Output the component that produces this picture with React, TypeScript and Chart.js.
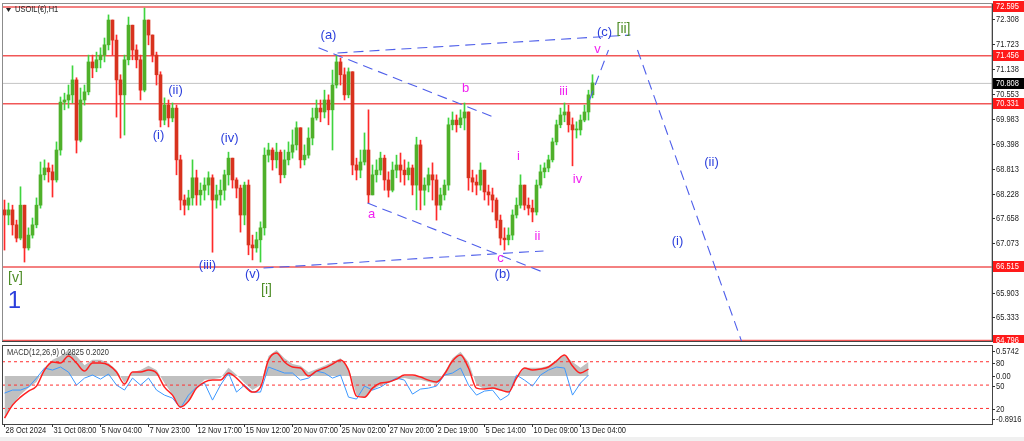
import React, { useEffect, useRef } from "react";
import { Chart, registerables } from "chart.js";

Chart.register(...registerables);

// ---------- data ----------
const SYMBOL_TITLE = "USOIL(€),H1";
const MACD_TITLE = "MACD(12,26,9) 0.2825 0.2020";

const X_MIN = -0.625;
const X_MAX = 246.875;
const PRICE_MIN = 64.76;
const PRICE_MAX = 72.665;
const MACD_MIN = -0.8916;
const MACD_MAX = 0.5742;
const STOCH_MIN = 0;
const STOCH_MAX = 101.5;

const OPEN0 = 67.85;
const HIGH = [
  68.08, 68.01, 67.96, 67.61, 68.39, 67.96, 67.43, 67.66, 68.13, 68.97,
  69.02, 68.95, 68.9, 69.44, 70.49, 70.58, 70.77, 71.22, 70.94, 70.7,
  70.77, 71.47, 71.47, 71.54, 71.64, 71.87, 72.41, 72.17, 71.94, 71.01,
  71.47, 72.36, 72.06, 71.71, 71.47, 72.57, 72.29, 71.82, 71.54, 71.08,
  70.47, 70.42, 70.35, 70.3, 69.13, 68.2, 68.31, 69.02, 68.78, 68.48,
  68.6, 68.74, 68.67, 68.43, 68.55, 68.78, 69.2, 69.06, 68.6, 68.43,
  68.5, 68.55, 67.26, 67.33, 67.57, 69.3, 69.41, 69.3, 69.41, 69.25,
  69.25, 69.44, 69.72, 69.91, 69.77, 69.37, 69.77, 70.23, 70.42, 70.42,
  70.65, 70.54, 71.12, 71.47, 71.4, 71.17, 71.17, 71.01, 69.06, 69.25,
  69.65, 70.19, 68.9, 69.02, 69.2, 69.13, 68.74, 68.97, 69.13, 69.18,
  69.02, 68.97, 68.9, 69.55, 69.48, 68.6, 68.83, 68.95, 68.67, 68.36,
  68.55, 70.0, 70.14, 70.07, 70.19, 70.35, 70.07, 68.78, 68.67, 68.95,
  68.78, 68.43, 68.36, 68.13, 67.73, 67.43, 67.43, 67.85, 68.13, 68.67,
  68.43, 68.13, 68.08, 68.55, 68.9, 68.95, 69.13, 69.53, 69.95, 70.23,
  70.35, 70.3, 70.0, 69.91, 70.07, 70.3, 70.65, 71.01,
];
const LOW = [
  66.91, 67.5, 67.26, 67.1, 67.15, 66.63, 66.91, 67.19, 67.43, 67.89,
  68.55, 68.5, 68.15, 68.5, 69.13, 70.19, 70.23, 70.35, 69.18, 69.44,
  70.3, 70.54, 70.94, 71.08, 71.17, 71.31, 71.59, 71.47, 70.02, 69.53,
  69.6, 71.24, 71.36, 71.17, 70.42, 70.61, 71.71, 71.31, 70.77, 69.79,
  69.84, 69.79, 69.91, 68.67, 67.85, 67.73, 67.85, 67.96, 67.96, 67.96,
  68.08, 68.2, 66.86, 67.89, 67.96, 68.08, 68.43, 68.36, 68.13, 67.33,
  67.5, 66.8, 66.68, 66.86, 66.63, 67.26, 68.97, 68.78, 68.83, 68.48,
  68.6, 68.9, 69.06, 69.25, 68.83, 68.9, 69.06, 69.37, 69.95, 69.91,
  70.0, 69.84, 69.25, 70.7, 70.77, 70.42, 70.47, 68.67, 68.55, 68.6,
  68.9, 68.01, 68.2, 68.5, 68.67, 68.31, 68.15, 68.27, 68.6, 68.5,
  68.43, 68.55, 68.2, 67.85, 67.85, 67.96, 68.27, 68.08, 67.61, 67.85,
  68.08, 68.31, 69.72, 69.67, 69.77, 69.72, 68.31, 68.27, 68.2, 68.31,
  68.08, 67.96, 67.8, 67.43, 67.03, 66.91, 67.03, 67.15, 67.66, 67.89,
  67.85, 67.73, 67.57, 67.73, 68.36, 68.6, 68.74, 68.97, 69.37, 69.77,
  69.91, 69.67, 68.88, 69.53, 69.6, 69.91, 69.95, 70.47,
];
const CLOSE = [
  67.73, 67.85, 67.5, 67.19, 67.96, 66.96, 67.26, 67.5, 67.96, 68.67,
  68.83, 68.74, 68.55, 69.25, 70.37, 70.42, 70.54, 70.89, 69.48, 70.42,
  70.61, 71.31, 71.17, 71.36, 71.47, 71.71, 72.29, 71.82, 70.89, 70.54,
  71.36, 72.17, 71.59, 71.36, 70.65, 72.29, 71.94, 71.47, 71.01, 69.95,
  70.3, 70.0, 70.23, 69.02, 68.08, 67.96, 68.13, 68.6, 68.2, 68.31,
  68.43, 68.6, 68.08, 68.2, 68.31, 68.67, 69.06, 68.55, 68.36, 67.73,
  68.43, 67.03, 66.96, 67.15, 67.43, 69.13, 69.25, 69.02, 69.2, 68.67,
  69.02, 69.2, 69.37, 69.77, 69.02, 69.13, 69.53, 70.0, 70.23, 70.14,
  70.42, 70.19, 70.77, 71.31, 71.01, 70.54, 71.08, 68.9, 68.78, 68.97,
  69.25, 68.2, 68.67, 68.78, 69.06, 68.55, 68.31, 68.78, 68.9, 68.78,
  68.67, 68.83, 68.43, 69.37, 68.31, 68.43, 68.67, 68.55, 67.96, 68.2,
  68.43, 69.84, 69.95, 69.84, 70.0, 70.14, 68.6, 68.5, 68.43, 68.78,
  68.27, 68.2, 68.08, 67.61, 67.19, 67.15, 67.26, 67.73, 67.96, 68.43,
  67.96, 67.89, 67.8, 68.43, 68.74, 68.83, 69.02, 69.44, 69.84, 70.07,
  70.14, 69.84, 69.72, 69.72, 69.95, 70.14, 70.54, 70.82,
];

const LEVELS = [72.595, 71.456, 70.331, 66.515, 64.796];
const CURRENT_PRICE = 70.808;
const PRICE_TICKS = [72.308, 71.723, 71.138, 70.553, 69.983, 69.398, 68.813, 68.228, 67.658, 67.073, 65.903, 65.333];

const TIME_TICKS = [0, 12, 24, 36, 48, 60, 72, 84, 96, 108, 120, 132, 144];
const TIME_LABELS = [
  "28 Oct 2024", "31 Oct 08:00", "5 Nov 04:00", "7 Nov 23:00", "12 Nov 17:00",
  "15 Nov 12:00", "20 Nov 07:00", "25 Nov 02:00", "27 Nov 20:00", "2 Dec 19:00",
  "5 Dec 14:00", "10 Dec 09:00", "13 Dec 04:00",
];

// oscillator samples every 2 bars (bar index = 2k)
const MACD_HIST = [
  -0.76, -0.54, -0.35, -0.22, -0.11, 0.15, 0.3, 0.37, 0.48, 0.37,
  0.2, 0.3, 0.3, 0.24, 0.11, -0.13, 0.07, 0.11, 0.19, 0.11,
  -0.13, -0.35, -0.59, -0.48, -0.22, -0.07, -0.06, -0.04, 0.15, 0.02,
  -0.13, -0.26, -0.17, 0.37, 0.48, 0.33, 0.22, 0.19, 0.07, 0.13,
  0.19, 0.26, 0.33, 0.15, -0.35, -0.41, -0.26, -0.17, -0.13, -0.07,
  -0.04, -0.07, -0.07, -0.11, -0.15, 0.07, 0.33, 0.45, 0.26, -0.17,
  -0.24, -0.24, -0.26, -0.3, -0.04, 0.15, 0.15, 0.15, 0.19, 0.3,
  0.39, 0.26, 0.15, 0.26,
];
const OSC_SIGNAL = [
  7.5, 24.2, 34.5, 42.3, 48.7, 69.3, 79.6, 78.3, 87.3, 78.3,
  68.0, 78.3, 78.3, 75.8, 66.7, 51.3, 66.7, 66.7, 69.3, 65.5,
  47.4, 37.1, 21.7, 29.4, 46.1, 53.9, 56.4, 56.4, 65.5, 59.0,
  48.7, 41.0, 47.4, 82.2, 91.2, 79.6, 73.2, 71.9, 61.6, 68.0,
  71.9, 77.0, 82.2, 69.3, 35.8, 34.5, 46.1, 52.6, 53.9, 57.7,
  62.9, 62.9, 60.3, 56.4, 53.9, 64.2, 80.9, 88.6, 71.9, 46.1,
  44.9, 46.1, 43.6, 41.0, 59.0, 71.9, 69.3, 70.6, 73.2, 80.9,
  88.6, 74.5, 65.5, 70.6,
];
const OSC_MAIN = [
  39.7, 43.6, 43.6, 47.4, 59.0, 71.9, 69.3, 73.2, 66.7, 50.0,
  59.0, 62.9, 57.7, 64.2, 50.0, 43.6, 59.0, 50.0, 59.0, 43.6,
  37.1, 33.3, 20.4, 37.1, 47.4, 52.6, 30.7, 50.0, 65.5, 41.0,
  50.0, 41.0, 41.0, 73.2, 69.3, 65.5, 65.5, 56.4, 59.0, 68.0,
  65.5, 59.0, 62.9, 34.5, 32.0, 48.7, 43.6, 47.4, 53.9, 59.0,
  56.4, 38.4, 44.9, 46.1, 48.7, 62.9, 65.5, 71.9, 50.0, 37.1,
  42.3, 43.6, 30.7, 37.1, 62.9, 56.4, 48.7, 62.9, 69.3, 73.2,
  71.9, 37.1, 52.6, 62.9,
];
const OSC_LEVELS = [80, 50, 20];

// Elliott wave labels: [text, bar index, price, kind]
const WAVE_LABELS: [string, number, number, string][] = [
  ["[v]", 2.75, 66.26, "green"],
  ["1", 2.5, 65.72, "big"],
  ["(i)", 38.5, 69.58, "blue"],
  ["(ii)", 42.75, 70.65, "blue"],
  ["(iii)", 50.75, 66.56, "blue"],
  ["(iv)", 56.25, 69.53, "blue"],
  ["(v)", 62, 66.33, "blue"],
  ["[i]", 65.5, 65.98, "green"],
  ["(a)", 81, 71.94, "blue"],
  ["a", 91.75, 67.75, "pink"],
  ["b", 115.25, 70.7, "pink"],
  ["c", 124, 66.72, "pink"],
  ["(b)", 124.5, 66.35, "blue"],
  ["i", 128.5, 69.11, "pink"],
  ["ii", 133.25, 67.22, "pink"],
  ["iii", 139.75, 70.63, "pink"],
  ["iv", 143.25, 68.57, "pink"],
  ["v", 148.25, 71.61, "pink"],
  ["(c)", 150, 72.01, "blue"],
  ["[ii]", 154.75, 72.08, "green"],
  ["(ii)", 176.75, 68.97, "blue"],
  ["(i)", 168.25, 67.12, "blue"],
];

// dashed trend / projection lines: [bar1, price1, bar2, price2]
const WAVE_LINES = [
  [83.25, 71.52, 156.5, 71.94],
  [78.5, 71.64, 122.25, 70.02],
  [90.75, 68.01, 134.5, 66.4],
  [64.75, 66.49, 134.75, 66.89],
  [146.25, 70.42, 151, 71.59],
  [158.25, 71.59, 184.25, 64.78],
];

// ---------- styles ----------
const FONT = '"Liberation Sans", Arial, sans-serif';
const LABEL_STYLE: Record<string, { size: number; color: string }> = {
  blue: { size: 13, color: "#2b3fdc" },
  green: { size: 14, color: "#4e8d27" },
  pink: { size: 13, color: "#f020f0" },
  big: { size: 24, color: "#2b3fdc" },
};
const UP_WICK = "#3fd43f";
const UP_BODY = "#4fb02a";
const DN_WICK = "#ff2a2a";
const DN_BODY = "#d8321e";
const AXIS_SX = 0.88;

const OPEN = CLOSE.map((c, i) => (i === 0 ? OPEN0 : CLOSE[i - 1]));

function drawText(
  ctx: CanvasRenderingContext2D,
  s: string,
  x: number,
  y: number,
  size: number,
  color: string,
  align: CanvasTextAlign = "left",
  sx = 1
) {
  ctx.save();
  ctx.translate(x, y);
  ctx.scale(sx, 1);
  ctx.font = `${size}px ${FONT}`;
  ctx.fillStyle = color;
  ctx.textAlign = align;
  ctx.textBaseline = "middle";
  ctx.fillText(s, 0, 0);
  ctx.restore();
}

const mainDeco = {
  id: "mainDeco",
  afterDraw(chart: any) {
    const ctx: CanvasRenderingContext2D = chart.ctx;
    const { left, right, top, bottom } = chart.chartArea;
    const xs = chart.scales.x;
    const ys = chart.scales.y;
    ctx.save();
    // frame
    ctx.strokeStyle = "#8c8c8c";
    ctx.lineWidth = 1;
    ctx.strokeRect(left + 0.5, top - 0.5, right - left - 0.5, bottom - top);
    ctx.strokeStyle = "#444";
    ctx.beginPath();
    ctx.moveTo(right + 0.5, top - 0.5);
    ctx.lineTo(right + 0.5, bottom);
    ctx.moveTo(left, bottom - 0.5);
    ctx.lineTo(right + 0.5, bottom - 0.5);
    ctx.stroke();

    // price labels
    PRICE_TICKS.forEach((v) => {
      const y = Math.round(ys.getPixelForValue(v)) + 0.5;
      ctx.strokeStyle = "#333";
      ctx.beginPath();
      ctx.moveTo(right, y);
      ctx.lineTo(right + 3, y);
      ctx.stroke();
      drawText(ctx, v.toFixed(3), right + 4, y, 8.5, "#222", "left", AXIS_SX);
    });
    const boxes: [number, string][] = LEVELS.map((v) => [v, "#ff1a1a"] as [number, string]);
    boxes.push([CURRENT_PRICE, "#000"]);
    boxes.forEach(([v, col]) => {
      const y = ys.getPixelForValue(v);
      ctx.fillStyle = col;
      ctx.fillRect(right + 1, Math.round(y - 5.5), 31, 11);
      drawText(ctx, v.toFixed(3), right + 4, y, 8.5, "#fff", "left", AXIS_SX);
    });

    // title
    ctx.fillStyle = "#222";
    ctx.beginPath();
    ctx.moveTo(left + 4, top + 4);
    ctx.lineTo(left + 9, top + 4);
    ctx.lineTo(left + 6.5, top + 8);
    ctx.closePath();
    ctx.fill();
    drawText(ctx, SYMBOL_TITLE, left + 13, top + 6, 8.5, "#222", "left", AXIS_SX);

    // wave labels
    WAVE_LABELS.forEach(([t, bx, p, kind]) => {
      const st = LABEL_STYLE[kind];
      drawText(ctx, t, xs.getPixelForValue(bx), ys.getPixelForValue(p), st.size, st.color, "center", 1);
    });
    ctx.restore();
  },
};

const subDeco = {
  id: "subDeco",
  afterDraw(chart: any) {
    const ctx: CanvasRenderingContext2D = chart.ctx;
    const { left, right, top, bottom } = chart.chartArea;
    const xs = chart.scales.x;
    const ym = chart.scales.y2;
    const yo = chart.scales.y3;
    ctx.save();
    ctx.strokeStyle = "#444";
    ctx.lineWidth = 1;
    ctx.strokeRect(left + 0.5, top + 0.5, right - left, bottom - top);

    drawText(ctx, MACD_TITLE, left + 5, top + 8, 8.5, "#333", "left", AXIS_SX);

    const rightLabels: [string, number, number][] = [
      [MACD_MAX.toFixed(4), ym.getPixelForValue(MACD_MAX), 5.5],
      ["0.00", ym.getPixelForValue(0), 0],
      [MACD_MIN.toFixed(4), ym.getPixelForValue(MACD_MIN), -5],
    ];
    OSC_LEVELS.forEach((l) => rightLabels.push([String(l), yo.getPixelForValue(l), 1]));
    rightLabels.forEach(([t, y, off]) => {
      const yy = Math.round(y + off) + 0.5;
      ctx.strokeStyle = "#333";
      ctx.beginPath();
      ctx.moveTo(right, yy);
      ctx.lineTo(right + 3, yy);
      ctx.stroke();
      drawText(ctx, t, right + 4, yy, 8.5, "#222", "left", AXIS_SX);
    });

    TIME_TICKS.forEach((b, i) => {
      const x = Math.round(xs.getPixelForValue(b)) - 0.5;
      ctx.strokeStyle = "#333";
      ctx.beginPath();
      ctx.moveTo(x, bottom);
      ctx.lineTo(x, bottom + 3);
      ctx.stroke();
      drawText(ctx, TIME_LABELS[i], x + 1, bottom + 6.5, 8.5, "#222", "left", AXIS_SX);
    });
    ctx.restore();
  },
};

export default function App() {
  const mainRef = useRef<HTMLCanvasElement>(null);
  const subRef = useRef<HTMLCanvasElement>(null);

  useEffect(() => {
    document.body.style.margin = "0";
    const isUp = (i: number) => CLOSE[i] >= OPEN[i];
    const wickData = CLOSE.map((c, i) => ({
      x: i,
      y: [Math.min(LOW[i], OPEN[i], c), Math.max(HIGH[i], OPEN[i], c)],
    }));
    const bodyData = CLOSE.map((c, i) => ({ x: i, y: [OPEN[i], c] }));

    const levelSets: any[] = LEVELS.map((v) => ({
      type: "line",
      data: [
        { x: X_MIN, y: v },
        { x: X_MAX, y: v },
      ],
      borderColor: "rgba(238,45,45,0.8)",
      borderWidth: 1.6,
      pointRadius: 0,
      order: 20,
    }));
    levelSets.push({
      type: "line",
      data: [
        { x: X_MIN, y: CURRENT_PRICE },
        { x: X_MAX, y: CURRENT_PRICE },
      ],
      borderColor: "#c4c4c4",
      borderWidth: 1,
      pointRadius: 0,
      order: 21,
    });
    const lineSets: any[] = WAVE_LINES.map(([x1, y1, x2, y2]) => ({
      type: "line",
      data: [
        { x: x1, y: y1 },
        { x: x2, y: y2 },
      ],
      borderColor: "#4f5fea",
      borderWidth: 1.1,
      borderDash: [10, 6],
      pointRadius: 0,
      order: 1,
    }));

    const main = new Chart(mainRef.current as HTMLCanvasElement, {
      type: "bar",
      data: {
        datasets: [
          ...levelSets,
          {
            type: "bar",
            data: wickData as any,
            backgroundColor: (c: any) => (isUp(c.dataIndex) ? UP_WICK : DN_WICK),
            barThickness: 1,
            grouped: false,
            order: 6,
          },
          {
            type: "bar",
            data: bodyData as any,
            backgroundColor: (c: any) => (isUp(c.dataIndex) ? UP_BODY : DN_BODY),
            barThickness: 3,
            minBarLength: 1,
            grouped: false,
            order: 5,
          },
          ...lineSets,
        ],
      },
      options: {
        animation: false,
        responsive: false,
        events: [],
        layout: { padding: { left: 2, top: 4, right: 0, bottom: 1 } },
        plugins: { legend: { display: false }, tooltip: { enabled: false } },
        scales: {
          x: {
            type: "linear",
            min: X_MIN,
            max: X_MAX,
            offset: false,
            display: false,
          },
          y: {
            type: "linear",
            position: "right",
            min: PRICE_MIN,
            max: PRICE_MAX,
            grid: { display: false },
            border: { display: false },
            ticks: { display: false },
            afterFit: (s: any) => {
              s.width = 32;
            },
          },
        },
      } as any,
      plugins: [mainDeco],
    });

    const sub = new Chart(subRef.current as HTMLCanvasElement, {
      type: "line",
      data: {
        datasets: [
          {
            data: MACD_HIST.map((v, k) => ({ x: 2 * k, y: v })),
            yAxisID: "y2",
            fill: "origin",
            backgroundColor: "#c0c0c0",
            borderColor: "#bdbdbd",
            borderWidth: 0,
            pointRadius: 0,
            order: 10,
          },
          ...OSC_LEVELS.map((l) => ({
            data: [
              { x: X_MIN, y: l },
              { x: X_MAX, y: l },
            ],
            yAxisID: "y3",
            borderColor: "#ff3030",
            borderWidth: 1,
            borderDash: [3, 3],
            pointRadius: 0,
            order: 8,
          })),
          {
            data: OSC_MAIN.map((v, k) => ({ x: 2 * k, y: v })),
            yAxisID: "y3",
            borderColor: "#3d98ff",
            borderWidth: 1,
            pointRadius: 0,
            order: 2,
          },
          {
            data: OSC_SIGNAL.map((v, k) => ({ x: 2 * k, y: v })),
            yAxisID: "y3",
            borderColor: "#ff2020",
            borderWidth: 1.5,
            pointRadius: 0,
            cubicInterpolationMode: "monotone",
            order: 1,
          },
        ] as any,
      },
      options: {
        animation: false,
        responsive: false,
        events: [],
        layout: { padding: { left: 2, top: 2, right: 0, bottom: 0 } },
        plugins: { legend: { display: false }, tooltip: { enabled: false } },
        scales: {
          x: {
            type: "linear",
            min: X_MIN,
            max: X_MAX,
            offset: false,
            grid: { display: false },
            border: { display: false },
            ticks: { display: false },
            afterFit: (s: any) => {
              s.height = 17;
            },
          },
          y2: {
            type: "linear",
            position: "right",
            min: MACD_MIN,
            max: MACD_MAX,
            grid: { display: false },
            border: { display: false },
            ticks: { display: false },
            afterFit: (s: any) => {
              s.width = 32;
            },
          },
          y3: {
            type: "linear",
            display: false,
            min: STOCH_MIN,
            max: STOCH_MAX,
          },
        },
      } as any,
      plugins: [subDeco],
    });

    return () => {
      main.destroy();
      sub.destroy();
    };
  }, []);

  return (
    <div
      style={{
        position: "fixed",
        left: 0,
        top: 0,
        width: 1024,
        height: 441,
        background: "#ffffff",
        overflow: "hidden",
      }}
    >
      <canvas
        ref={mainRef}
        width={1024}
        height={343}
        style={{ position: "absolute", left: 0, top: 0, width: 1024, height: 343 }}
      />
      <canvas
        ref={subRef}
        width={1024}
        height={98}
        style={{ position: "absolute", left: 0, top: 343, width: 1024, height: 98 }}
      />
      <div
        style={{
          position: "absolute",
          left: 0,
          top: 437,
          width: 1024,
          height: 4,
          background: "#f0f0f0",
        }}
      />
    </div>
  );
}
